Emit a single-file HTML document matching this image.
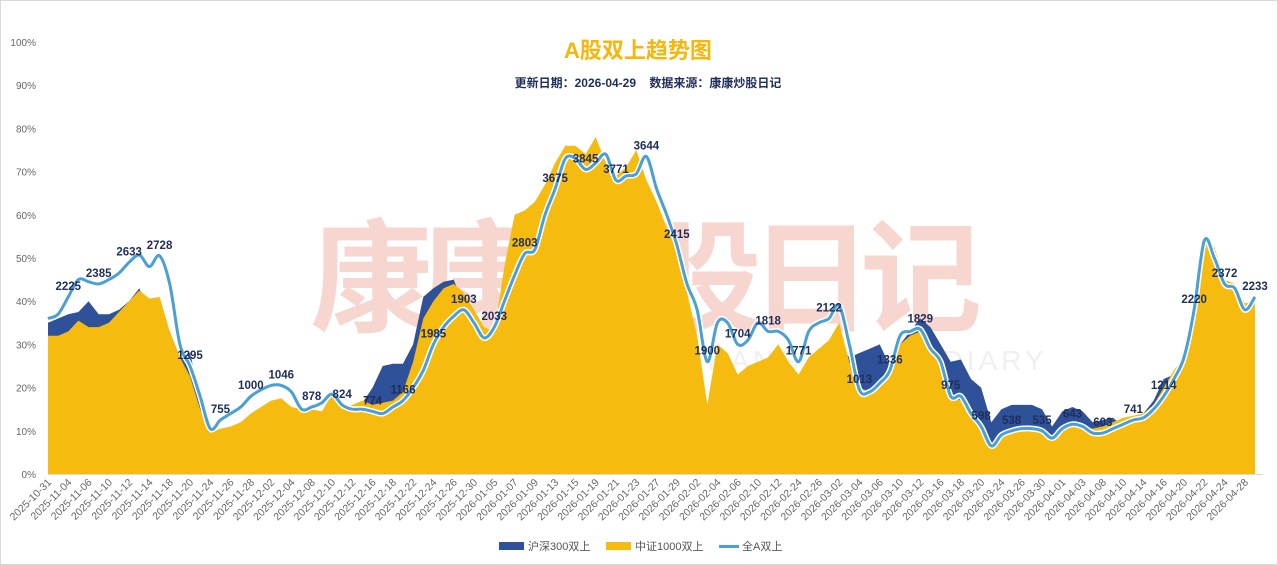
<!DOCTYPE html>
<html><head><meta charset="utf-8"><style>
html,body{margin:0;padding:0;background:#fff}
body{width:1278px;height:565px;overflow:hidden;font-family:"Liberation Sans","Noto Sans CJK SC",sans-serif}
#frame{position:absolute;left:0;top:0;width:1276px;height:563px;border:1px solid #d9d9d9}
</style></head><body>
<div id="frame"></div>
<svg id="chart" width="1278" height="565" style="position:absolute;left:0;top:0">
<g id="wm">
<text x="640" y="322" text-anchor="middle" font-size="122" font-weight="bold" fill="#f8d6d0" font-family="Liberation Sans,Noto Sans CJK SC,sans-serif" letter-spacing="-12">康康炒股日记</text>
<text x="830" y="370" text-anchor="middle" font-size="28" fill="#f0f0f0" letter-spacing="4">KANGKANG STOCK DIARY</text>
</g>
<g id="plot"></g>
<text x="638" y="58" text-anchor="middle" font-size="22" font-weight="bold" fill="#f5b70d" font-family="Liberation Sans,Noto Sans CJK SC,sans-serif">A股双上趋势图</text>
<text x="648" y="87" text-anchor="middle" font-size="12" font-weight="bold" fill="#1f2d5a" font-family="Liberation Sans,Noto Sans CJK SC,sans-serif" xml:space="preserve">更新日期：2026-04-29    数据来源：康康炒股日记</text>
<g font-size="11" fill="#555" font-family="Liberation Sans,Noto Sans CJK SC,sans-serif">
<g><rect x="499" y="542" width="25" height="8" fill="#2e5199"/><text x="528" y="550">沪深300双上</text></g>
<g><rect x="606" y="542" width="25" height="8" fill="#f5bb0e"/><text x="635" y="550">中证1000双上</text></g>
<g><rect x="719" y="545" width="20" height="3" fill="#4a9fd4"/><text x="742" y="550">全A双上</text></g>
</g>
</svg>
<script>
const months=[["2025-10",[31]],["2025-11",[3,4,5,6,7,10,11,12,13,14,17,18,19,20,21,24,25,26,27,28]],["2025-12",[1,2,3,4,5,8,9,10,11,12,15,16,17,18,19,22,23,24,25,26,29,30,31]],["2026-01",[5,6,7,8,9,12,13,14,15,16,19,20,21,22,23,26,27,28,29,30]],["2026-02",[2,3,4,5,6,9,10,11,12,13,24,25,26,27]],["2026-03",[2,3,4,5,6,9,10,11,12,13,16,17,18,19,20,23,24,25,26,27,30,31]],["2026-04",[1,2,3,7,8,9,10,13,14,15,16,17,20,21,22,23,24,27,28,29]]];
const dates=[];months.forEach(m=>m[1].forEach(d=>dates.push(m[0]+"-"+String(d).padStart(2,"0"))));
const hs300=[35,36,37,37.5,40,37,37,38,40,43,38,36,33,27,28,18,9,9,10,10,12,13,14,15,13,12,12,12,14,13,14,16.5,20,25,25.5,25.5,30,41,43,44.5,45,39,35,33,30,40,48,50,52,56,60,56,54,52,48,45,43,44,45,42,40,36,32,30,28,14,22,20,18,20,21,22,24,22,19,22,24,26,30,27,28,29,30,25,30,33,36,34,30,26,26.5,22,20,12,15,16,16,16,15,11,14.5,15.5,14.5,12,12.5,13,11,13,14,17,22,23,25,36,48,45,40,40,35,37];
const zz1000=[32,32,33,35.5,34,34,35,37.5,40,42.5,40.6,41,33,27,22.6,15,9.5,10.5,11,12,14,15.5,17,17.5,15.5,15,15,14.5,18.5,15,16,17,16,16.5,17,19,26,36,40,43,44,42,38,34,33,48,60,61,63,67,72,76,76,74,78,72,69,71,75,68,63,57,52,42,32,16,30,28,23,25,26,27,30,26,23,27,29,31,35,26,20,19,21,23,30,32,33,29,25,18,17,14,11,6.5,8.5,9.5,10,10,10.3,9,10.5,11,10.5,10.5,11,12,13,13.5,14,16,20,24,27,40,54,52.5,45,44,39.5,40];
const allA=[36,37,41,45,44.5,44,45,46.5,49,50.7,48,50.5,44,30,25,18,10.5,12.5,14,15.5,18,19.5,20.5,20.5,19,15,15.5,16.5,18.5,16,15,15,14.5,14,15.5,17,20,24,30,34,36.5,38,35,31.5,34,40,46,51,52,60,66,73,73,70.5,72,74,68,69,69.5,73.5,66,60,53,44,38,26,35,35,30,31,35,33,33,31,26,33,35,36,39,30,19.5,19,21,24,32,33,33.5,29,26,18,18,14,11,6.5,9,10,10.5,10.5,10,8.3,10.5,11.5,11,9.5,9.5,10.5,11.5,12.5,13,15,18,22,27,38,54,50,44,43,38,41];
const pointLabels=[2225,2385,2633,2728,1295,755,1000,1046,878,824,774,1166,1985,1903,2033,2803,3675,3845,3771,3644,2415,1900,1704,1818,1771,2122,1013,1336,1829,975,598,538,535,643,603,741,1214,2220,2372,2233];
const yTicks=[0,10,20,30,40,50,60,70,80,90,100];

const X0=48,X1=1255,Y0=474,Y100=42;
const xs=i=>X0+(X1-X0)*i/(dates.length-1);
const ys=v=>Y0-(Y0-Y100)*v/100;
const NS="http://www.w3.org/2000/svg";
const plot=document.getElementById("plot");
function mk(t,a){const e=document.createElementNS(NS,t);for(const k in a)e.setAttribute(k,a[k]);return e;}

function area(arr,color,name){
  let d="M"+xs(0)+","+Y0;
  arr.forEach((v,i)=>d+=" L"+xs(i).toFixed(1)+","+ys(v).toFixed(1));
  d+=" L"+xs(arr.length-1)+","+Y0+" Z";
  const p=mk("path",{d:d,fill:color});
  
  
  plot.appendChild(p);
}
area(hs300,"#2e5199","hs300-area");
area(zz1000,"#f5bb0e","zz1000-area");

function smooth(arr){
  const P=arr.map((v,i)=>[xs(i),ys(v)]);
  let d="M"+P[0][0]+","+P[0][1];
  for(let i=0;i<P.length-1;i++){
    const p0=P[Math.max(0,i-1)],p1=P[i],p2=P[i+1],p3=P[Math.min(P.length-1,i+2)];
    const c1=[p1[0]+(p2[0]-p0[0])/6,p1[1]+(p2[1]-p0[1])/6];
    const c2=[p2[0]-(p3[0]-p1[0])/6,p2[1]-(p3[1]-p1[1])/6];
    d+=" C"+c1[0].toFixed(1)+","+c1[1].toFixed(1)+" "+c2[0].toFixed(1)+","+c2[1].toFixed(1)+" "+p2[0].toFixed(1)+","+p2[1].toFixed(1);
  }
  return d;
}
const ld=smooth(allA);
const halo=mk("path",{d:ld,fill:"none",stroke:"#ffffff","stroke-width":6,"stroke-linejoin":"round"});


plot.appendChild(halo);
const line=mk("path",{d:ld,fill:"none",stroke:"#4a9fd4","stroke-width":3,"stroke-linejoin":"round"});


plot.appendChild(line);

pointLabels.forEach((v,k)=>{
  const i=2+3*k;
  const t=mk("text",{x:xs(i),y:ys(allA[i])-7,"text-anchor":"middle","font-size":11.5,"font-weight":"bold",fill:"#1f2d5a"});
  t.textContent=v;
  
  
  plot.appendChild(t);
});

yTicks.forEach(v=>{
  const t=mk("text",{x:36,y:ys(v)+4,"text-anchor":"end","font-size":10,fill:"#666"});
  t.textContent=v+"%";
  
  
  plot.appendChild(t);
});
const ax=mk("line",{x1:X0,y1:Y0+0.5,x2:X1+8,y2:Y0+0.5,stroke:"#d9d9d9","stroke-width":1});


plot.appendChild(ax);
dates.forEach((d,i)=>{
  if(i%2) return;
  const x=xs(i)+4,y=Y0+9;
  const t=mk("text",{x:x,y:y,"text-anchor":"end","font-size":10.5,fill:"#666",transform:"rotate(-45 "+x+" "+y+")"});
  t.textContent=d;
  
  
  plot.appendChild(t);
});
</script>
</body></html>
